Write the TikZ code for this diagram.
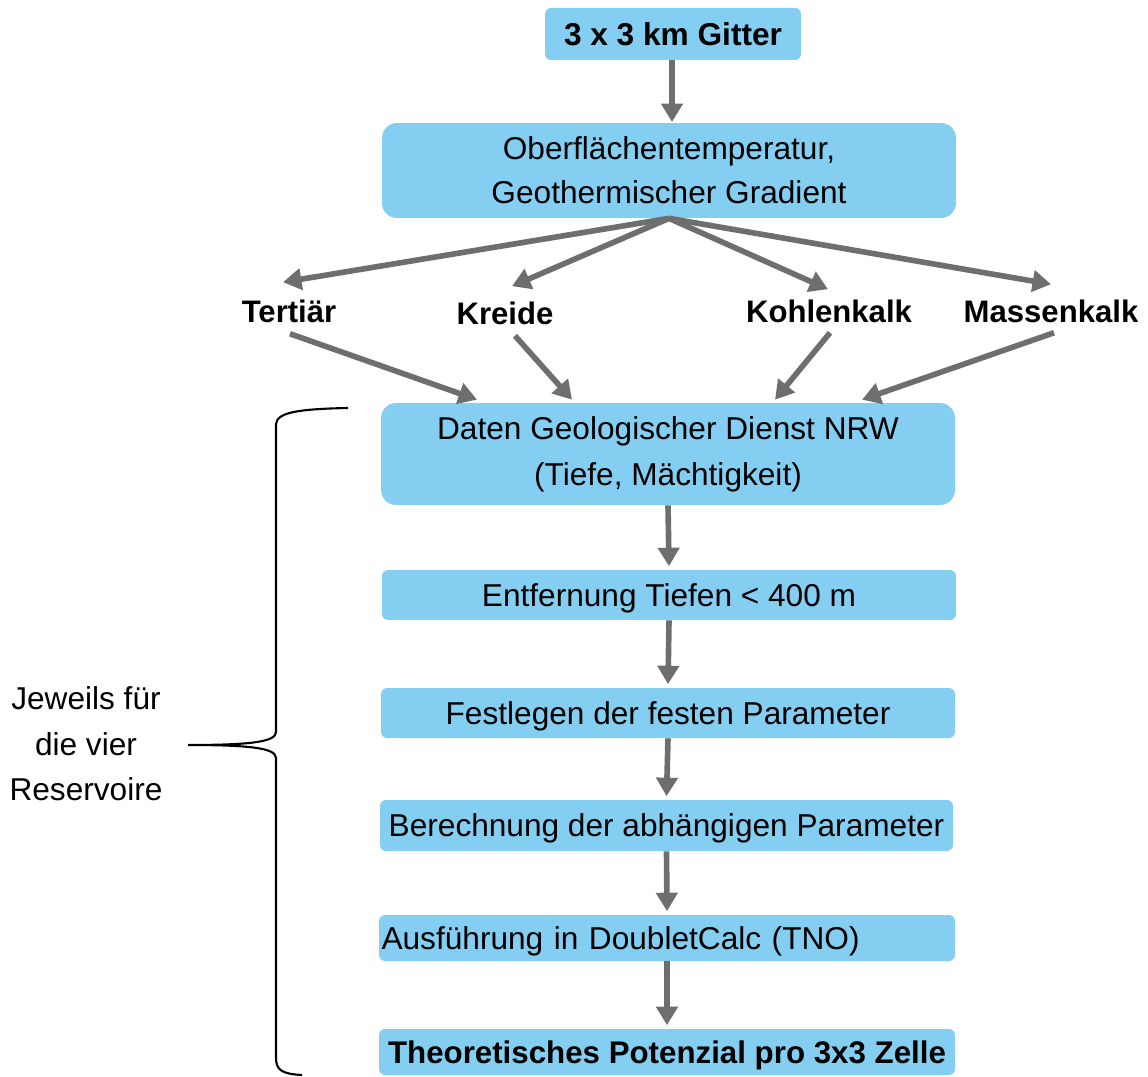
\documentclass[tikz,border=0pt]{standalone}
\usepackage{fontspec}
\setmainfont{Liberation Sans}
\usetikzlibrary{arrows.meta}
\definecolor{boxblue}{HTML}{84CEF2}
\definecolor{arrowgray}{HTML}{6E6E6E}
\begin{document}
\begin{tikzpicture}[x=0.02cm,y=-0.02cm,
  boxbase/.style={draw=none, fill=boxblue, inner sep=0pt, align=center,
    font=\fontsize{18}{25}\selectfont},
  smallbox/.style={boxbase, rounded corners=3.4pt, minimum width=11.48cm, minimum height=1.0cm,
    text height=12.9pt, text depth=0pt},
  bigbox/.style={boxbase, rounded corners=8.5pt, minimum width=11.48cm},
  lbl/.style={inner sep=0pt, font=\fontsize{17.7}{20}\selectfont\bfseries},
  flow/.style={draw=arrowgray, line width=3.2pt, -{Triangle[width=12pt,length=10.5pt]}},
  bracestyle/.style={draw=black, line width=1.2pt}
]
\useasboundingbox (0,0) rectangle (1148,1077);

% boxes
\node[smallbox, minimum width=5.12cm, minimum height=1.04cm, font=\fontsize{18}{21}\selectfont\bfseries] (gitter) at (673,34) {3 x 3 km Gitter};
\node[bigbox, minimum height=1.9cm, font=\fontsize{18}{25}\selectfont] (oberfl) at (669,170.5) {Oberflächentemperatur,\\Geothermischer Gradient};
\node[bigbox, minimum height=2.04cm, font=\fontsize{18}{26}\selectfont] (daten) at (668,454) {Daten Geologischer Dienst NRW\\(Tiefe, Mächtigkeit)};
\node[smallbox] (entf) at (669,595) {Entfernung Tiefen < 400 m};
\node[smallbox] (fest) at (668,713) {Festlegen der festen Parameter};
\node[smallbox, minimum width=11.46cm, minimum height=1.02cm] (berech) at (666.5,825.5) {Berechnung der abhängigen Parameter};
\node[smallbox, minimum width=11.52cm, minimum height=0.92cm, text width=11.42cm, align=left] (ausf) at (667,938) {Ausführung in DoubletCalc (TNO)};
\node[smallbox, minimum width=11.52cm, minimum height=0.92cm, font=\fontsize{17.8}{21}\selectfont\bfseries] (theo) at (667,1052) {Theoretisches Potenzial pro 3x3 Zelle};

% reservoir labels
\node[lbl] (tert) at (289,311) {Tertiär};
\node[lbl] (kreide) at (505,313) {Kreide};
\node[lbl] (kohlen) at (829,311) {Kohlenkalk};
\node[lbl] (massen) at (1051,311) {Massenkalk};

% side text
\node[inner sep=0pt, align=center, font=\fontsize{18}{26}\selectfont] (jeweils) at (86,744) {Jeweils für\\die vier\\Reservoire};

% vertical arrows
\draw[flow] (gitter.south -| 672,0) -- (672,122);
\draw[flow] (daten.south) -- ([yshift=2]entf.north);
\draw[flow] (entf.south) -- ([yshift=2]fest.north);
\draw[flow] (fest.south) -- ([yshift=2]berech.north);
\draw[flow] (berech.south) -- ([yshift=2]ausf.north);
\draw[flow] (ausf.south) -- ([yshift=2]theo.north);

% fan out
\draw[flow] (oberfl.south) -- ([shift={(-6,-17)}]tert.north);
\draw[flow] (oberfl.south) -- ([shift={(7,-15)}]kreide.north);
\draw[flow] (oberfl.south) -- ([shift={(-1,-10)}]kohlen.north);
\draw[flow] (oberfl.south) -- ([shift={(0,-15)}]massen.north);

% fan in
\draw[flow] ([shift={(1,11)}]tert.south) -- ([shift={(-191,-3)}]daten.north);
\draw[flow] ([shift={(10,11)}]kreide.south) -- ([shift={(-96,-3)}]daten.north);
\draw[flow] ([shift={(1,10)}]kohlen.south) -- ([shift={(107,-3)}]daten.north);
\draw[flow] ([shift={(3,10)}]massen.south) -- ([shift={(194,-3)}]daten.north);

% brace
\coordinate (btop) at (348,408);
\coordinate (btip) at (188,745);
\coordinate (bbot) at (302,1075);
\draw[bracestyle] (btop) .. controls (300,409) and (277,412) .. (276,424)
  -- (276,732) .. controls (276,742) and (250,745) .. (btip)
  (btip) .. controls (250,745) and (276,748) .. (276,758)
  -- (276,1058) .. controls (276,1070) and (282,1074) .. (bbot);
\end{tikzpicture}
\end{document}
